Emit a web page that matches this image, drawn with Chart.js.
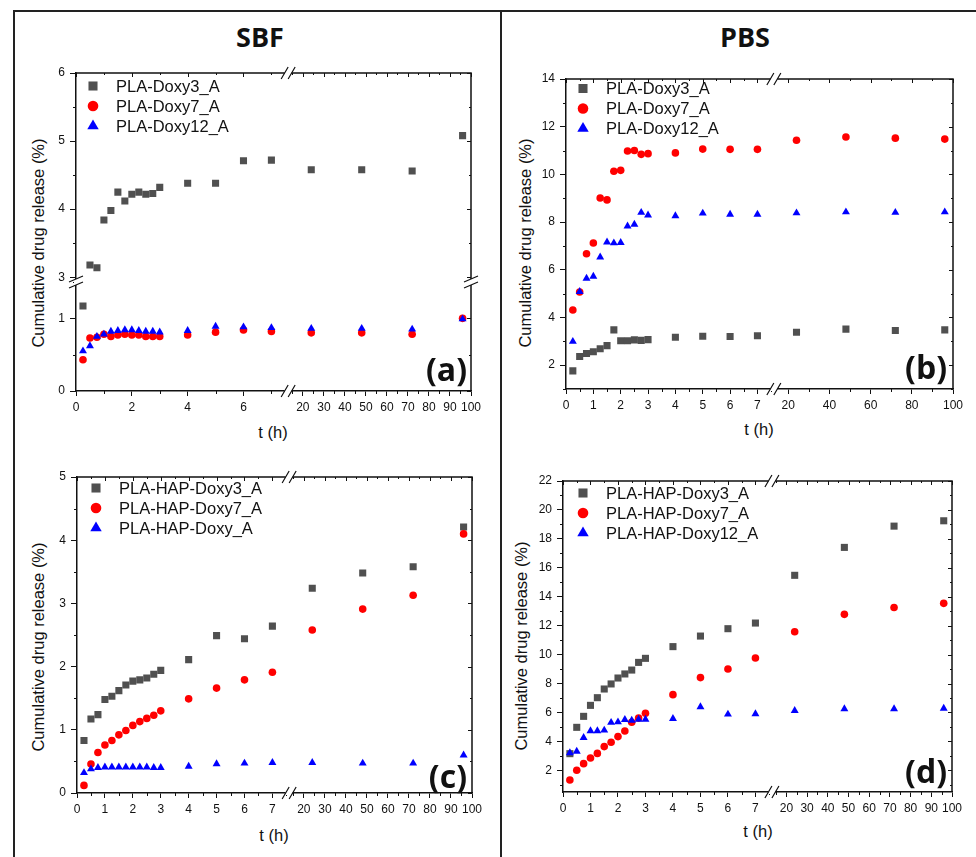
<!DOCTYPE html>
<html>
<head>
<meta charset="utf-8">
<script src="https://cdn.jsdelivr.net/npm/chart.js@4.4.0/dist/chart.umd.min.js"></script>
<style>
  html, body { margin: 0; padding: 0; background: #fff; }
  body { width: 976px; height: 857px; position: relative; overflow: hidden; font-family: "Liberation Sans", Arial, sans-serif; }
  .frame { position: absolute; background: #222; }
  .txt { position: absolute; white-space: nowrap; color: #111; line-height: 1; }
  .head { font: bold 27px "Open Sans", sans-serif; transform: translate(-50%, -50%); }
  .xt { font-size: 16.5px; transform: translate(-50%, -50%); }
  .yt { font-size: 16.5px; transform: translate(-50%, -50%) rotate(-90deg); }
  .tag { font: bold 32px "Open Sans", sans-serif; transform: translate(-100%, -50%); }
</style>
</head>
<body>

<div class="frame" style="left:13px;top:10px;width:963px;height:2px"></div>
<div class="frame" style="left:13px;top:10px;width:2px;height:847px"></div>
<div class="frame" style="left:500px;top:10px;width:2px;height:847px"></div>

<div class="txt head" style="left:260px;top:36px">SBF</div>
<div class="txt head" style="left:745px;top:36px">PBS</div>

<div class="txt yt" style="left:38px;top:243px">Cumulative drug release (%)</div>
<div class="txt yt" style="left:525px;top:243px">Cumulative drug release (%)</div>
<div class="txt yt" style="left:38px;top:647px">Cumulative drug release (%)</div>
<div class="txt yt" style="left:521px;top:646px">Cumulative drug release (%)</div>

<div class="txt xt" style="left:273px;top:432px">t (h)</div>
<div class="txt xt" style="left:759px;top:429px">t (h)</div>
<div class="txt xt" style="left:274px;top:835px">t (h)</div>
<div class="txt xt" style="left:758px;top:831px">t (h)</div>

<script>
// sampling times (h)
const times = [0.25, 0.5, 0.75, 1, 1.25, 1.5, 1.75, 2, 2.25, 2.5, 2.75, 3, 4, 5, 6, 7, 24, 48, 72, 96];

// (a) SBF - PLA fibres
const sbfPlaNames = ['PLA-Doxy3_A', 'PLA-Doxy7_A', 'PLA-Doxy12_A'];
const sbfPla3 = [1.17, 3.18, 3.14, 3.84, 3.98, 4.25, 4.12, 4.22, 4.25, 4.22, 4.23, 4.32, 4.38, 4.38, 4.71, 4.72, 4.58, 4.58, 4.56, 5.08];
const sbfPla7 = [0.43, 0.73, 0.74, 0.78, 0.75, 0.77, 0.78, 0.77, 0.77, 0.75, 0.75, 0.75, 0.77, 0.81, 0.84, 0.82, 0.80, 0.80, 0.78, 1.00];
const sbfPla12 = [0.55, 0.62, 0.75, 0.78, 0.82, 0.83, 0.84, 0.84, 0.83, 0.82, 0.82, 0.81, 0.83, 0.89, 0.88, 0.87, 0.86, 0.86, 0.85, 0.99];

// (b) PBS - PLA fibres
const pbsPlaNames = ['PLA-Doxy3_A', 'PLA-Doxy7_A', 'PLA-Doxy12_A'];
const pbsPla3 = [1.76, 2.36, 2.49, 2.56, 2.69, 2.82, 3.48, 3.02, 3.02, 3.06, 3.04, 3.07, 3.17, 3.21, 3.20, 3.23, 3.38, 3.51, 3.45, 3.48];
const pbsPla7 = [4.31, 5.07, 6.67, 7.12, 9.01, 8.93, 10.13, 10.17, 10.98, 11.00, 10.84, 10.87, 10.90, 11.06, 11.05, 11.05, 11.43, 11.57, 11.52, 11.48];
const pbsPla12 = [2.99, 5.08, 5.64, 5.72, 6.53, 7.16, 7.12, 7.14, 7.83, 7.90, 8.40, 8.29, 8.26, 8.37, 8.32, 8.32, 8.38, 8.42, 8.40, 8.42];

// (c) SBF - PLA-HAP fibres
const sbfHapNames = ['PLA-HAP-Doxy3_A', 'PLA-HAP-Doxy7_A', 'PLA-HAP-Doxy_A'];
const sbfHap3 = [0.83, 1.17, 1.24, 1.48, 1.53, 1.62, 1.71, 1.77, 1.79, 1.82, 1.88, 1.94, 2.11, 2.49, 2.44, 2.64, 3.24, 3.48, 3.58, 4.21];
const sbfHap7 = [0.12, 0.46, 0.64, 0.76, 0.83, 0.92, 0.99, 1.07, 1.13, 1.18, 1.23, 1.30, 1.49, 1.66, 1.79, 1.91, 2.58, 2.91, 3.13, 4.10];
const sbfHap12 = [0.32, 0.38, 0.40, 0.41, 0.41, 0.41, 0.41, 0.41, 0.41, 0.41, 0.40, 0.40, 0.42, 0.46, 0.47, 0.48, 0.48, 0.47, 0.47, 0.60];

// (d) PBS - PLA-HAP fibres
const pbsHapNames = ['PLA-HAP-Doxy3_A', 'PLA-HAP-Doxy7_A', 'PLA-HAP-Doxy12_A'];
const pbsHap3 = [3.15, 4.97, 5.73, 6.49, 7.02, 7.62, 7.97, 8.38, 8.66, 8.93, 9.46, 9.74, 10.55, 11.28, 11.79, 12.18, 15.48, 17.41, 18.88, 19.25];
const pbsHap7 = [1.33, 2.00, 2.46, 2.85, 3.17, 3.64, 3.94, 4.33, 4.72, 5.32, 5.61, 5.94, 7.23, 8.41, 9.00, 9.76, 11.58, 12.78, 13.26, 13.54];
const pbsHap12 = [3.20, 3.31, 4.26, 4.72, 4.72, 4.77, 5.30, 5.34, 5.50, 5.45, 5.52, 5.52, 5.57, 6.38, 5.87, 5.90, 6.12, 6.24, 6.24, 6.28];

// marker look for series 1..3
const markers = [
  {pointStyle: 'rect', color: '#505050', radius: 5, legendRadius: 6.4, order: 2},
  {pointStyle: 'circle', color: '#ff0000', radius: 3.8, legendRadius: 5.3, order: 1},
  {pointStyle: 'triangle', color: '#0000ff', radius: 4.6, legendRadius: 6.6, order: 0}
];

const X_BREAK = 7.6;      // left segment 0..7.6, right segment 13..100
const AXIS_W = 50, AXIS_H = 30, PAD_T = 15, PAD_R = 20, PAD_B = 5;
const tickFont = {family: '"Liberation Sans", Arial, sans-serif', size: 12};

Chart.defaults.font.family = '"Liberation Sans", Arial, sans-serif';

function baseAxis(position, tickLen) {
  return {
    type: 'linear',
    position: position,
    axis: position === 'bottom' ? 'x' : 'y',
    grid: {drawOnChartArea: false, drawTicks: true, tickLength: tickLen, tickColor: '#111', tickWidth: 1},
    border: {display: true, color: '#111', width: 1.5},
    ticks: {font: tickFont, color: '#111', autoSkip: false, maxRotation: 0, includeBounds: false, padding: position === 'bottom' ? 4 : 5}
  };
}

function xAxis(min, max, step, weight) {
  const s = baseAxis('bottom', 5);
  Object.assign(s, {min: min, max: max, stack: 'xs', stackWeight: weight, afterFit: sc => { sc.height = AXIS_H; }});
  s.ticks.stepSize = step;
  return s;
}

function yAxis(cfg, stacked) {
  const s = baseAxis('left', 6);
  Object.assign(s, {min: cfg.min, max: cfg.max, afterFit: sc => { sc.width = AXIS_W; }});
  if (stacked) { s.stack = 'ys'; s.stackWeight = cfg.weight; }
  s.ticks.stepSize = cfg.step;
  return s;
}

// draw the box, mirrored/minor ticks and the // break marks
const frameDecor = {
  id: 'frameDecor',
  afterDraw(chart, args, opts) {
    const ctx = chart.ctx, a = chart.chartArea;
    ctx.save();
    ctx.strokeStyle = '#111';
    ctx.lineWidth = 1.5;
    ctx.beginPath();
    ctx.moveTo(a.left, a.top);
    ctx.lineTo(a.right, a.top);
    ctx.lineTo(a.right, a.bottom);
    ctx.stroke();

    ctx.lineWidth = 1;
    Object.values(chart.scales).forEach(sc => {
      const step = opts.minor[sc.id];
      const majors = sc.ticks.map(t => t.value);
      const marks = majors.map(v => ({v: v, major: true}));
      if (step) {
        for (let k = Math.ceil(sc.min / step - 1e-9); k * step <= sc.max + 1e-9; k++) {
          const v = k * step;
          if (!majors.some(m => Math.abs(m - v) < 1e-9)) marks.push({v: v, major: false});
        }
      }
      ctx.beginPath();
      marks.forEach(m => {
        const p = Math.round(sc.getPixelForValue(m.v)) + 0.5;
        if (sc.isHorizontal()) {
          if (!m.major) { ctx.moveTo(p, a.bottom); ctx.lineTo(p, a.bottom + 3); }
          ctx.moveTo(p, a.top); ctx.lineTo(p, a.top + (m.major ? 4 : 2));
        } else {
          if (!m.major) { ctx.moveTo(a.left, p); ctx.lineTo(a.left - 3, p); }
          ctx.moveTo(a.right, p); ctx.lineTo(a.right - (m.major ? 4 : 2), p);
        }
      });
      ctx.stroke();
    });

    ctx.fillStyle = '#fff';
    ctx.lineWidth = 1.2;
    if (chart.scales.xL && chart.scales.xR) {
      const bx = chart.scales.xL.right;
      [a.bottom, a.top].forEach(y => {
        ctx.fillRect(bx - 3.5, y - 2, 7, 4);
        ctx.beginPath();
        [-3.5, 3.5].forEach(d => { ctx.moveTo(bx + d - 3.5, y + 6); ctx.lineTo(bx + d + 3.5, y - 6); });
        ctx.stroke();
      });
    }
    if (chart.scales.yHi) {
      const by = chart.scales.yHi.bottom;
      [a.left, a.right].forEach(x => {
        ctx.fillRect(x - 2, by - 3, 4, 6);
        ctx.beginPath();
        [-3, 3].forEach(d => { ctx.moveTo(x - 7, by + d + 3); ctx.lineTo(x + 7, by + d - 3); });
        ctx.stroke();
      });
    }
    ctx.restore();
  }
};

// legend inside the plot, one entry per series
const seriesLegend = {
  id: 'seriesLegend',
  afterDraw(chart, args, opts) {
    const ctx = chart.ctx, a = chart.chartArea;
    ctx.save();
    ctx.font = '16.5px "Liberation Sans", Arial, sans-serif';
    ctx.textBaseline = 'middle';
    opts.items.forEach((it, i) => {
      const y = a.top + opts.top + i * 20;
      ctx.fillStyle = it.color;
      ctx.strokeStyle = it.color;
      Chart.helpers.drawPoint(ctx, {pointStyle: it.pointStyle, radius: it.radius, rotation: 0, borderWidth: 0}, a.left + opts.markX, y);
      ctx.fillStyle = '#111';
      ctx.fillText(it.text, a.left + opts.textX, y + 1);
    });
    ctx.restore();
  }
};

function buildPanel(p) {
  const c = document.createElement('canvas');
  c.width = p.R - p.L + AXIS_W + PAD_R;
  c.height = p.B - p.T + PAD_T + AXIS_H + PAD_B;
  c.style.cssText = 'position:absolute;left:' + (p.L - AXIS_W) + 'px;top:' + (p.T - PAD_T) + 'px;';
  document.body.appendChild(c);

  const datasets = [];
  p.series.forEach((vals, s) => {
    const m = markers[s];
    const groups = {};
    times.forEach((t, i) => {
      const xId = t < X_BREAK ? 'xL' : 'xR';
      const yId = p.yBreak == null ? 'y' : (vals[i] < p.yBreak ? 'yLo' : 'yHi');
      const key = xId + yId;
      if (!groups[key]) groups[key] = {xAxisID: xId, yAxisID: yId, data: []};
      groups[key].data.push({x: t, y: vals[i]});
    });
    Object.values(groups).forEach(g => datasets.push(Object.assign(g, {
      label: p.names[s],
      pointStyle: m.pointStyle,
      pointRadius: m.radius,
      backgroundColor: m.color,
      borderColor: m.color,
      borderWidth: 0,
      order: m.order,
      showLine: false
    })));
  });

  const scales = {
    xL: xAxis(0, X_BREAK, p.xLeft.step, 210),
    xR: xAxis(13, 100, p.xRight.step, 181)
  };
  const minor = {xL: p.xLeft.minor, xR: p.xRight.minor};
  if (p.yBreak == null) {
    scales.y = yAxis(p.y, false);
    minor.y = p.y.minor;
  } else {
    scales.yLo = yAxis(p.yLo, true);
    scales.yHi = yAxis(p.yHi, true);
    minor.yLo = p.yLo.minor;
    minor.yHi = p.yHi.minor;
  }

  new Chart(c, {
    type: 'scatter',
    data: {datasets: datasets},
    options: {
      responsive: false,
      animation: false,
      events: [],
      layout: {padding: {left: 0, top: PAD_T, right: PAD_R, bottom: PAD_B}},
      scales: scales,
      plugins: {
        legend: {display: false},
        tooltip: {enabled: false},
        frameDecor: {minor: minor},
        seriesLegend: {
          top: p.legend.top, markX: p.legend.markX, textX: p.legend.textX,
          items: p.names.map((n, i) => ({text: n, pointStyle: markers[i].pointStyle, color: markers[i].color, radius: markers[i].legendRadius}))
        }
      }
    },
    plugins: [frameDecor, seriesLegend]
  });

  const tag = document.createElement('div');
  tag.className = 'txt tag';
  tag.textContent = p.tag;
  tag.style.left = p.tagX + 'px';
  tag.style.top = p.tagY + 'px';
  document.body.appendChild(tag);
}

buildPanel({
  L: 76, T: 73, R: 471, B: 391,
  names: sbfPlaNames, series: [sbfPla3, sbfPla7, sbfPla12],
  xLeft: {step: 2, minor: 1}, xRight: {step: 10, minor: 5},
  yBreak: 2,
  yLo: {min: 0, max: 1.5, step: 1, minor: 0.5, weight: 109},
  yHi: {min: 2.93, max: 6, step: 1, minor: 0.5, weight: 209},
  legend: {top: 13, markX: 17, textX: 40},
  tag: '(a)', tagX: 467, tagY: 368
});

buildPanel({
  L: 566, T: 79, R: 953, B: 389,
  names: pbsPlaNames, series: [pbsPla3, pbsPla7, pbsPla12],
  xLeft: {step: 1, minor: 0.5}, xRight: {step: 20, minor: 10},
  y: {min: 1, max: 14, step: 2, minor: 1},
  legend: {top: 9.5, markX: 17, textX: 40},
  tag: '(b)', tagX: 947, tagY: 366
});

buildPanel({
  L: 77, T: 477, R: 472, B: 793,
  names: sbfHapNames, series: [sbfHap3, sbfHap7, sbfHap12],
  xLeft: {step: 1, minor: 0.5}, xRight: {step: 10, minor: 5},
  y: {min: 0, max: 5, step: 1, minor: 0.5},
  legend: {top: 11, markX: 19, textX: 42},
  tag: '(c)', tagX: 467, tagY: 775
});

buildPanel({
  L: 563, T: 481, R: 952, B: 792,
  names: pbsHapNames, series: [pbsHap3, pbsHap7, pbsHap12],
  xLeft: {step: 1, minor: 0.5}, xRight: {step: 10, minor: 5},
  y: {min: 0.5, max: 22, step: 2, minor: 1},
  legend: {top: 12, markX: 20, textX: 43},
  tag: '(d)', tagX: 947, tagY: 770
});
</script>
</body>
</html>
